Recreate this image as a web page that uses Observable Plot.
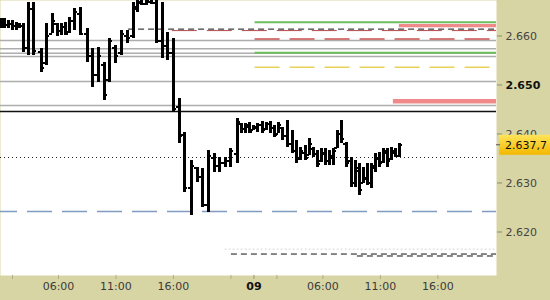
<!DOCTYPE html>
<html>
<head>
<meta charset="utf-8">
<script src="https://cdn.jsdelivr.net/npm/d3@7"></script>
<script src="https://cdn.jsdelivr.net/npm/@observablehq/plot@0.6"></script>
<style>
  body { margin: 0; background: #d8d5a5; }
  #chart svg { display: block; }
</style>
</head>
<body>
<div id="chart"></div>
<script>
// Bar times on the session clock, in hours from midnight of the 8th
// (the 9th continues past 24, with the one-hour evening break left out).
const barTime = [
  1.04, 1.30, 1.65, 2.00, 2.35, 2.61, 2.96, 3.39, 3.83, 4.52, 4.96, 5.48, 5.91, 6.26, 6.61, 6.96,
  7.39, 7.91, 8.52, 8.96, 9.48, 10.00, 10.44, 10.96, 11.48, 12.00, 12.52, 12.87, 13.22, 13.65, 14.09,
  14.52, 15.04, 15.48, 16.00, 16.52, 16.96, 17.57, 18.09, 18.52, 19.04, 19.57, 20.00, 20.52, 20.96, 21.57,
  21.91, 22.26, 22.61, 22.96, 23.30, 23.74, 24.09, 24.43, 24.78, 25.13, 25.48, 25.91, 26.35, 26.70,
  27.04, 27.48, 27.83, 28.17, 28.52, 28.87, 29.22, 29.56, 29.91, 30.26, 30.61, 31.04, 31.48, 31.83,
  32.17, 32.52, 32.87, 33.22, 33.57, 33.91, 34.26, 34.61, 34.96, 35.30, 35.65
];
const barOpen = [
  2.6625, 2.6628, 2.6622, 2.6625, 2.6620, 2.6624, 2.6620, 2.6575, 2.6655, 2.6568, 2.6545, 2.6605, 2.6625, 2.6610, 2.6618, 2.6608,
  2.6630, 2.6645, 2.6605, 2.6560, 2.6520, 2.6540, 2.6510, 2.6575, 2.6565, 2.6600, 2.6600, 2.6655, 2.6668, 2.6665, 2.6670,
  2.6668, 2.6590, 2.6580, 2.6565, 2.6455, 2.6398, 2.6290, 2.6330, 2.6312, 2.6255, 2.6350, 2.6335, 2.6340, 2.6345, 2.6360,
  2.6420, 2.6410, 2.6415, 2.6408, 2.6412, 2.6418, 2.6410, 2.6420, 2.6412, 2.6400, 2.6413, 2.6395, 2.6380, 2.6365,
  2.6350, 2.6362, 2.6358, 2.6370, 2.6360, 2.6345, 2.6360, 2.6345, 2.6350, 2.6372, 2.6400, 2.6380, 2.6345, 2.6300,
  2.6325, 2.6300, 2.6308, 2.6300, 2.6330, 2.6348, 2.6342, 2.6362, 2.6348, 2.6362, 2.6356
];
const barHigh = [
  2.6636, 2.6636, 2.6632, 2.6632, 2.6628, 2.6626, 2.6626, 2.6668, 2.6668, 2.6575, 2.6626, 2.6646, 2.6626, 2.6626, 2.6628, 2.6638,
  2.6656, 2.6658, 2.6615, 2.6575, 2.6577, 2.6546, 2.6595, 2.6581, 2.6611, 2.6611, 2.6668, 2.6685, 2.6690, 2.6688, 2.6690,
  2.6695, 2.6668, 2.6607, 2.6595, 2.6472, 2.6403, 2.6346, 2.6332, 2.6330, 2.6366, 2.6360, 2.6352, 2.6352, 2.6370, 2.6432,
  2.6421, 2.6421, 2.6423, 2.6417, 2.6421, 2.6425, 2.6423, 2.6425, 2.6417, 2.6423, 2.6413, 2.6428, 2.6407, 2.6387,
  2.6372, 2.6377, 2.6391, 2.6372, 2.6366, 2.6370, 2.6370, 2.6366, 2.6370, 2.6407, 2.6428, 2.6383, 2.6352, 2.6346,
  2.6340, 2.6332, 2.6340, 2.6340, 2.6360, 2.6362, 2.6370, 2.6370, 2.6372, 2.6370, 2.6381
];
const barLow = [
  2.6615, 2.6615, 2.6615, 2.6611, 2.6611, 2.6615, 2.6566, 2.6560, 2.6560, 2.6526, 2.6540, 2.6605, 2.6599, 2.6601, 2.6601, 2.6605,
  2.6611, 2.6601, 2.6546, 2.6495, 2.6505, 2.6468, 2.6505, 2.6544, 2.6560, 2.6585, 2.6595, 2.6648, 2.6662, 2.6662, 2.6664,
  2.6585, 2.6554, 2.6550, 2.6444, 2.6381, 2.6281, 2.6234, 2.6301, 2.6250, 2.6240, 2.6321, 2.6321, 2.6332, 2.6332, 2.6340,
  2.6401, 2.6401, 2.6401, 2.6407, 2.6403, 2.6401, 2.6407, 2.6401, 2.6393, 2.6401, 2.6387, 2.6372, 2.6360, 2.6340,
  2.6346, 2.6346, 2.6356, 2.6352, 2.6332, 2.6342, 2.6336, 2.6336, 2.6336, 2.6370, 2.6381, 2.6332, 2.6291, 2.6291,
  2.6275, 2.6299, 2.6295, 2.6289, 2.6321, 2.6332, 2.6340, 2.6332, 2.6346, 2.6352, 2.6352
];
const barClose = [
  2.6628, 2.6622, 2.6625, 2.6620, 2.6624, 2.6620, 2.6575, 2.6655, 2.6570, 2.6535, 2.6600, 2.6630, 2.6610, 2.6618, 2.6605, 2.6630,
  2.6648, 2.6605, 2.6560, 2.6520, 2.6560, 2.6480, 2.6590, 2.6560, 2.6605, 2.6595, 2.6660, 2.6670, 2.6665, 2.6672, 2.6668,
  2.6590, 2.6580, 2.6565, 2.6450, 2.6395, 2.6290, 2.6335, 2.6312, 2.6255, 2.6355, 2.6335, 2.6340, 2.6345, 2.6365, 2.6425,
  2.6410, 2.6418, 2.6405, 2.6414, 2.6418, 2.6408, 2.6420, 2.6412, 2.6398, 2.6418, 2.6395, 2.6380, 2.6365, 2.6348,
  2.6365, 2.6352, 2.6380, 2.6360, 2.6338, 2.6362, 2.6345, 2.6355, 2.6365, 2.6400, 2.6390, 2.6340, 2.6300, 2.6330,
  2.6285, 2.6310, 2.6300, 2.6335, 2.6350, 2.6340, 2.6365, 2.6345, 2.6365, 2.6356, 2.6377
];

// Price levels drawn across the whole chart
const greyLevels = [2.6591, 2.6574, 2.6565, 2.6558, 2.6507, 2.6458];
const pivotLevel = [2.6446];
const prevCloseLevel = [2.6352];
const supportLevel = [2.6242];

// Levels that start part-way through, with the session hour they start at
const blackDashPrice = [2.6614, 2.6155, 2.6151];
const blackDashFrom = [12.1, 21.04, 32.0];
const darkRedPrice = [2.6611];
const darkRedFrom = [15.9];
const redDashPrice = [2.6594];
const greenPrice = [2.6628, 2.6566];
const yellowDashPrice = [2.6536];
const targetsFrom = 23.1;
const faintPrice = [2.6165];
const faintFrom = 20.5;

// Shaded price zones: start hour, low price, high price
const zoneFrom = [35.65, 35.13];
const zoneLow = [2.66167, 2.64612];
const zoneHigh = [2.66235, 2.64704];

// Axis ticks
const xTickHours = [2, 6, 11, 16, 21, 23, 25, 29, 34, 39];
const xTickLabels = ["", "06:00", "11:00", "16:00", "", "09", "", "06:00", "11:00", "16:00"];
const yTicks = [2.62, 2.63, 2.64, 2.65, 2.66];
const yBoldTick = 2.65;

const bars = barTime.map((t, i) => ({
  t, open: barOpen[i], high: barHigh[i], low: barLow[i], close: barClose[i]
}));
const xEnd = 44.1;
const segs = (prices, from) => prices.map((p, i) => ({p, from: Array.isArray(from) ? from[i] : from}));
const zones = zoneFrom.map((f, i) => ({from: f, lo: zoneLow[i], hi: zoneHigh[i]}));
const labelOf = new Map(xTickHours.map((h, i) => [h, xTickLabels[i]]));
const dateTick = xTickHours[xTickLabels.indexOf("09")];
const tickLen = 0.27;

const chart = Plot.plot({
  width: 550,
  height: 300,
  marginLeft: 0,
  marginRight: 54,
  marginTop: 0,
  marginBottom: 25,
  style: {
    background: "#d8d5a5",
    fontFamily: "'DejaVu Sans', Verdana, sans-serif",
    fontSize: "11px",
    color: "#3a3a3a",
    overflow: "visible"
  },
  x: {domain: [0.957, xEnd]},
  y: {domain: [2.61112, 2.66724]},
  marks: [
    Plot.frame({fill: "white", stroke: null}),

    // full-width levels
    Plot.ruleY(greyLevels, {stroke: "#adadad", strokeWidth: 1.5}),
    Plot.ruleY(pivotLevel, {stroke: "#111", strokeWidth: 1.5}),
    Plot.ruleY(prevCloseLevel, {stroke: "#222", strokeWidth: 1, strokeDasharray: "1,3"}),
    Plot.ruleY(supportLevel, {stroke: "#7f9bbf", strokeWidth: 1.5, strokeDasharray: "25,10", strokeDashoffset: 8}),

    // part-width levels
    Plot.ruleY(segs(faintPrice, faintFrom), {y: "p", x1: "from", x2: xEnd, stroke: "#d6d6d6", strokeWidth: 1, strokeDasharray: "2,2"}),
    Plot.ruleY(segs(greenPrice, targetsFrom), {y: "p", x1: "from", x2: xEnd, stroke: "#6cbf5c", strokeWidth: 2}),
    Plot.rect(zones, {x1: "from", x2: xEnd, y1: "lo", y2: "hi", fill: "#f08a8a"}),
    Plot.ruleY(segs(darkRedPrice, darkRedFrom), {y: "p", x1: "from", x2: xEnd, stroke: "#b24a4a", strokeWidth: 1, strokeDasharray: "25,10"}),
    Plot.ruleY(segs(blackDashPrice, blackDashFrom), {y: "p", x1: "from", x2: xEnd, stroke: "#111", strokeWidth: 1, strokeDasharray: "6,4"}),
    Plot.ruleY(segs(redDashPrice, targetsFrom), {y: "p", x1: "from", x2: xEnd, stroke: "#c8504e", strokeWidth: 1.5, strokeDasharray: "25,10"}),
    Plot.ruleY(segs(yellowDashPrice, targetsFrom), {y: "p", x1: "from", x2: xEnd, stroke: "#e8d25a", strokeWidth: 1.5, strokeDasharray: "25,10"}),

    // OHLC bars
    Plot.ruleX(bars, {x: "t", y1: "low", y2: "high", stroke: "black", strokeWidth: 3, clip: true, shapeRendering: "crispEdges"}),
    Plot.ruleY(bars, {y: "open", x1: d => d.t - tickLen, x2: "t", stroke: "black", strokeWidth: 2, clip: true, shapeRendering: "crispEdges"}),
    Plot.ruleY(bars, {y: "close", x1: "t", x2: d => d.t + tickLen, stroke: "black", strokeWidth: 2, clip: true, shapeRendering: "crispEdges"}),

    // axes
    Plot.axisY(yTicks.filter(v => v !== yBoldTick), {
      anchor: "right", tickSize: 5, tickPadding: 4, stroke: "#8a8a70",
      tickFormat: d3.format(".3f"), fill: "#444"
    }),
    Plot.axisY([yBoldTick], {
      anchor: "right", tickSize: 5, tickPadding: 4, stroke: "#8a8a70",
      tickFormat: d3.format(".3f"), fill: "#111", fontWeight: "bold"
    }),
    Plot.axisX(xTickHours, {
      anchor: "bottom", tickSize: 4, tickPadding: 3, stroke: "#b0ad88",
      tickFormat: d => d === dateTick ? "" : labelOf.get(d), fill: "#3a3a3a"
    }),
    Plot.axisX([dateTick], {
      anchor: "bottom", tickSize: 4, tickPadding: 3, stroke: "#b0ad88",
      tickFormat: () => labelOf.get(dateTick), fill: "#111", fontWeight: "bold"
    })
  ]
});

document.getElementById("chart").appendChild(chart);

// Last-price tag on the right-hand axis
const last = bars[bars.length - 1].close;
const yScale = chart.scale("y");
const xScale = chart.scale("x");
const ly = yScale.apply(last);
const axisX0 = xScale.apply(xEnd);
const svg = d3.select(chart);
const grad = svg.append("defs").append("linearGradient")
  .attr("id", "tagFill").attr("x1", 0).attr("x2", 0).attr("y1", 0).attr("y2", 1);
grad.append("stop").attr("offset", "0%").attr("stop-color", "#ffe45a");
grad.append("stop").attr("offset", "100%").attr("stop-color", "#f2b800");
const tag = svg.append("g");
tag.append("rect")
  .attr("x", axisX0 + 3).attr("y", ly - 10).attr("width", 60).attr("height", 20)
  .attr("fill", "url(#tagFill)");
tag.append("line")
  .attr("x1", axisX0).attr("x2", axisX0 + 4).attr("y1", ly).attr("y2", ly)
  .attr("stroke", "#555");
const priceText = last.toFixed(4);
tag.append("text")
  .attr("x", axisX0 + 9).attr("y", ly).attr("dy", "0.35em")
  .attr("text-anchor", "start")
  .attr("fill", "#111")
  .text(priceText.slice(0, -1) + "," + priceText.slice(-1));
</script>
</body>
</html>
